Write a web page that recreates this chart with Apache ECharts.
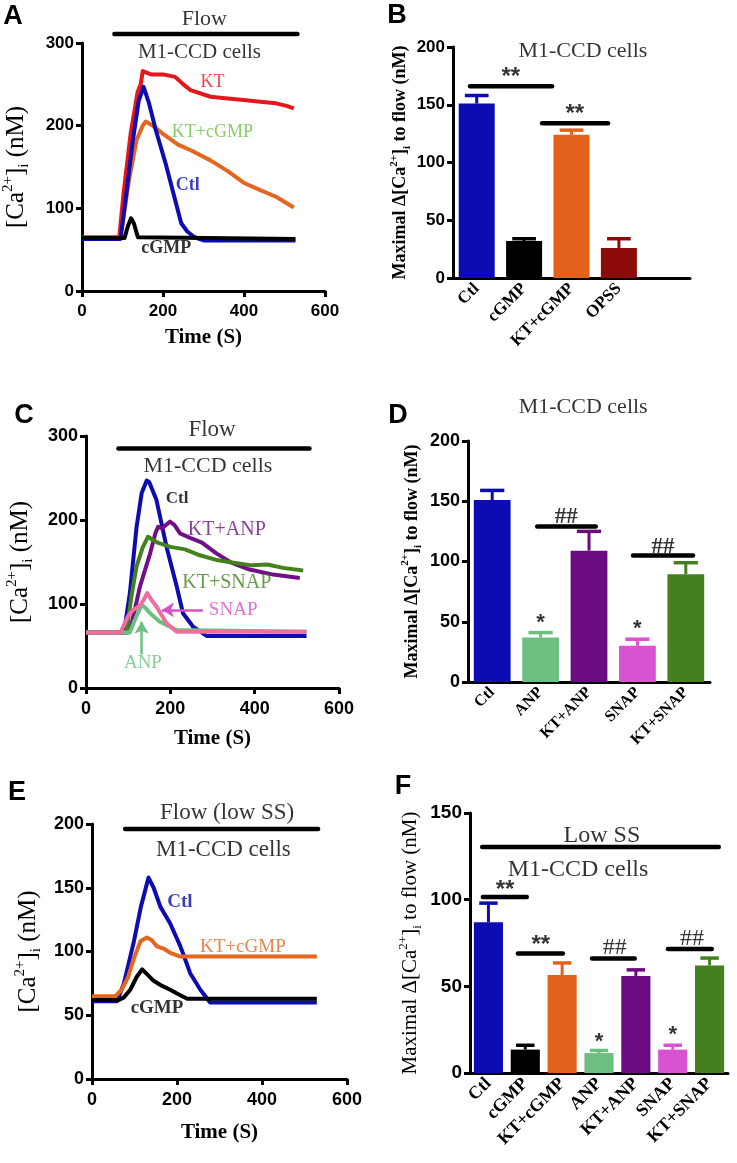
<!DOCTYPE html>
<html><head><meta charset="utf-8">
<script src="https://cdn.jsdelivr.net/npm/echarts@6/dist/echarts.min.js"></script>
<style>html,body{margin:0;padding:0;background:#fff}#c{width:737px;height:1163px}</style>
</head><body><div id="c"></div>
<script>
// ---------- Panel A: time courses [t (s), Ca (nM)] ----------
const A_KT     = [[0,65],[92,65],[103,120],[120,190],[137,240],[145,250],[150,266],[153,267],[170,262],[200,262],[230,259],[250,250],[268,243],[317,235],[360,233],[399,231],[440,229],[479,227],[505,224],[523,221]];
const A_Ctl    = [[0,63],[95,63],[110,120],[125,180],[140,230],[152,247],[165,228],[182,195],[206,155],[230,110],[245,82],[260,72],[278,65],[302,61],[527,61]];
const A_KTcGMP = [[0,64],[93,64],[100,80],[116,134],[135,183],[150,200],[157,205],[175,200],[200,190],[237,177],[270,170],[317,158],[360,145],[399,131],[440,122],[479,114],[523,101]];
const A_cGMP   = [[0,64],[105,64],[113,78],[121,88],[128,82],[138,65],[527,63]];
const A_flowBar = [[80,311],[532,311]];

// ---------- Panel B: bars ----------
const B_cats = ['Ctl','cGMP','KT+cGMP','OPSS',''];
const B_vals = [151,32,124,26];
const B_err  = [158,34,128,34];
const B_sig1 = [[-0.14,166],[1.59,166]];
const B_sig2 = [[1.38,134],[2.77,134]];

// ---------- Panel C ----------
const C_Ctl    = [[0,66],[90,66],[104,113],[120,192],[132,232],[144,247],[150,245],[167,224],[191,168],[215,121],[230,89],[254,73],[286,62],[523,62]];
const C_KTANP  = [[0,66],[100,66],[110,80],[128,121],[152,160],[165,185],[171,192],[180,190],[199,198],[210,194],[223,184],[250,178],[275,173],[310,160],[346,149],[388,141],[444,135],[507,131]];
const C_KTSNAP = [[0,66],[96,66],[108,110],[120,145],[135,168],[147,180],[170,173],[200,168],[235,165],[270,158],[313,152],[350,149],[393,146],[430,147],[467,143],[515,140]];
const C_ANP    = [[0,66],[104,66],[115,80],[132,99],[140,96],[152,89],[175,79],[215,69],[523,67]];
const C_SNAP   = [[0,66],[82,66],[100,86],[112,93],[128,98],[138,106],[145,113],[155,105],[167,97],[191,77],[215,67],[523,67]];
const C_flowBar = [[77,285],[530,285]];
const C_snapArrow = [[277,93],[180,93]];
const C_anpArrow  = [[132,40],[132,79]];

// ---------- Panel D ----------
const D_cats = ['Ctl','ANP','KT+ANP','SNAP','KT+SNAP'];
const D_vals = [151,37,109,30,89.5];
const D_err  = [159,41,125,35.5,99];
const D_sig1 = [[0.93,129],[2.14,129]];
const D_sig2 = [[2.91,105],[4.15,105]];

// ---------- Panel E ----------
const E_Ctl    = [[0,61],[59,61],[75,75],[98,107],[115,135],[133,158],[145,150],[161,135],[184,122],[208,104],[231,83],[255,70],[278,60],[529,60]];
const E_KTcGMP = [[0,65],[55,65],[70,70],[85,80],[98,94],[114,108],[129,111],[140,109],[153,104],[170,102],[184,99],[208,96],[529,96]];
const E_cGMP   = [[0,62],[63,62],[75,64],[90,70],[105,80],[118,86],[130,82],[145,77],[165,73],[184,70],[200,67],[224,63],[529,63]];
const E_flowBar = [[78,196],[532,196]];

// ---------- Panel F ----------
const F_cats = ['Ctl','cGMP','KT+cGMP','ANP','KT+ANP','SNAP','KT+SNAP'];
const F_vals = [87,13.5,56.5,11.5,56,13.5,62];
const F_err  = [98,16,63.5,13,59.5,16,66.3];
const F_lowSS = [[-0.17,130.4],[6.25,130.4]];
const F_sig1 = [[-0.15,101.5],[1.04,101.5]];
const F_sig2 = [[0.8,69],[2.02,69]];
const F_sig3 = [[2.81,66],[3.97,66]];
const F_sig4 = [[4.87,71.5],[6.06,71.5]];

// ---------- styles ----------
const SERIF = '"Liberation Serif","Times New Roman",serif';
const SANS = '"Liberation Sans",Arial,sans-serif';
const BLUE='#0c0cb2', RED='#e5161c', ORANGE='#e4661f', LGREEN_LBL='#6cbd45', PURPLE='#700f86',
      DGREEN='#43821f', PINK='#ee6f9e', MAGENTA='#d650c8', LGREEN='#6cc080', DRED='#8c0c0c';
const B_cols = [BLUE,'#000000','#e2611b',DRED];
const D_cols = [BLUE,'#6cbf7f','#6c0a82','#d952cf','#45801f'];
const F_cols = [BLUE,'#000000','#e2611b','#6cbf7f','#6c0a82','#d952cf','#45801f'];

const chart = echarts.init(document.getElementById('c'), null, {renderer:'canvas'});

const axLine = {show:true, onZero:false, lineStyle:{color:'#000', width:3}};
const axTick = {show:true, length:6, lineStyle:{color:'#000', width:3}};
function lbl(fs){ return {color:'#000', fontFamily:SANS, fontWeight:'bold', fontSize:fs, margin:8}; }

function ca(fs){ // [Ca2+]i (nM)
  return {fontFamily:SERIF, fontSize:fs, color:'#000', lineHeight:fs+6,
    rich:{n:{fontFamily:SERIF,fontSize:fs,lineHeight:fs+6,color:'#000'},
          sup:{fontFamily:SERIF,fontSize:Math.round(fs*0.6),lineHeight:Math.round(fs*0.6),verticalAlign:'top',color:'#000'},
          sub:{fontFamily:SERIF,fontSize:Math.round(fs*0.6),lineHeight:Math.round(fs*0.6),verticalAlign:'bottom',color:'#000'}}};
}
function maxi(fs, bold){
  const w = bold ? 'bold' : 'normal';
  return {fontFamily:SERIF, fontSize:fs, fontWeight:w, color:'#000', lineHeight:fs+6,
    rich:{n:{fontFamily:SERIF,fontSize:fs,fontWeight:w,lineHeight:fs+6,color:'#000'},
          sup:{fontFamily:SERIF,fontSize:Math.round(fs*0.6),fontWeight:w,lineHeight:Math.round(fs*0.6),verticalAlign:'top',color:'#000'},
          sub:{fontFamily:SERIF,fontSize:Math.round(fs*0.6),fontWeight:w,lineHeight:Math.round(fs*0.6),verticalAlign:'bottom',color:'#000'}}};
}
const CA_NAME = '{n|[Ca}{sup|2+}{n|]}{sub|i}{n| (nM)}';
const MAX_NAME = '{n|Maximal Δ[Ca}{sup|2+}{n|]}{sub|i}{n| to flow (nM)}';

function timeX(gi, gap, fs){
  return {type:'value', gridIndex:gi, min:0, max:600, interval:200, axisLine:axLine, axisTick:axTick,
    axisLabel:Object.assign(lbl(fs),{margin:12}), splitLine:{show:false},
    name:'Time (S)', nameLocation:'middle', nameGap:gap,
    nameTextStyle:{fontFamily:SERIF, fontWeight:'bold', fontSize:21, color:'#000'}};
}
function caY(gi, max, interval, gap, fs, nfs){
  return {type:'value', gridIndex:gi, min:0, max:max, interval:interval, axisLine:axLine, axisTick:axTick,
    axisLabel:lbl(fs), splitLine:{show:false},
    name:CA_NAME, nameLocation:'middle', nameRotate:90, nameGap:gap, nameTextStyle:ca(nfs)};
}
function catX(gi, cats, fs){
  return {type:'category', gridIndex:gi, data:cats, axisLine:axLine, axisTick:{show:false},
    axisLabel:{interval:0, rotate:45, color:'#000', fontFamily:SERIF, fontWeight:'bold', fontSize:fs, margin:8},
    splitLine:{show:false}};
}
function hidX(gi, n){ return {type:'value', gridIndex:gi, min:-0.5, max:n-0.5, show:false, splitLine:{show:false}}; }
function barY(gi, max, interval, gap, fs, nfs, bold){
  return {type:'value', gridIndex:gi, min:0, max:max, interval:interval, axisLine:axLine, axisTick:axTick,
    axisLabel:lbl(fs), splitLine:{show:false},
    name:MAX_NAME, nameLocation:'middle', nameRotate:90, nameGap:gap, nameTextStyle:maxi(nfs, bold)};
}

function curve(i, data, color){
  return {type:'line', xAxisIndex:i, yAxisIndex:i, data:data, symbol:'none', showSymbol:false,
    lineStyle:{color:color, width:4, join:'round'}, itemStyle:{color:color}, z:3, silent:true};
}
function seg(xi, yi, data, w){
  return {type:'line', xAxisIndex:xi, yAxisIndex:yi, data:data, symbol:'none', clip:false,
    lineStyle:{color:'#000', width:w||4.5, cap:'round'}, z:5, silent:true};
}
function txt(xi, yi, x, y, text, o){
  return {type:'scatter', xAxisIndex:xi, yAxisIndex:yi, clip:false, symbolSize:1, silent:true,
    itemStyle:{color:'rgba(0,0,0,0)'}, data:[[x,y]], z:6,
    label:Object.assign({show:true, position:'inside', formatter:text, color:'#000', fontFamily:SERIF, fontSize:20}, o||{})};
}
function bars(i, vals, cols, bw){
  return {type:'bar', xAxisIndex:i, yAxisIndex:i, barWidth:bw, z:2, silent:true,
    data: vals.map((v,k)=>({value:v, itemStyle:{color:cols[k]}}))};
}
function errs(i, vals, tops, cols, capFrac){
  return {type:'custom', xAxisIndex:i, yAxisIndex:i, z:1, silent:true,
    data: vals.map((v,k)=>[k, v, tops[k]]),
    renderItem:function(params, api){
      const k = api.value(0);
      const p0 = api.coord([k, api.value(1)]);
      const p1 = api.coord([k, api.value(2)]);
      const w = api.size([1,0])[0]*capFrac;
      const c = cols[params.dataIndex];
      return {type:'group', children:[
        {type:'line', shape:{x1:p0[0],y1:p0[1],x2:p1[0],y2:p1[1]}, style:{stroke:c, lineWidth:3}},
        {type:'line', shape:{x1:p1[0]-w/2,y1:p1[1],x2:p1[0]+w/2,y2:p1[1]}, style:{stroke:c, lineWidth:3.5}}
      ]};
    }};
}
function arrow(i, pts, color){
  return {type:'line', xAxisIndex:i, yAxisIndex:i, data:[], silent:true,
    markLine:{silent:true, symbol:['none','arrow'], symbolSize:[11,12], label:{show:false},
      lineStyle:{color:color, width:2.5, type:'solid'}, animation:false,
      data:[[{coord:pts[0]},{coord:pts[1]}]]}};
}
function letter(t, x, y){
  return {type:'text', x:x, y:y, style:{text:t, fill:'#000', font:'bold 27px "Liberation Sans", Arial',
    textAlign:'center', textVerticalAlign:'middle', align:'center', verticalAlign:'middle'}};
}

const option = {
  backgroundColor:'#fff',
  animation:false,
  grid:[
    {left:77, top:43, width:248, height:248},
    {left:453, top:47, width:237, height:231},
    {left:86, top:436, width:253, height:252},
    {left:468, top:441, width:242, height:241},
    {left:92, top:824, width:255, height:255},
    {left:470, top:813, width:258, height:260}
  ],
  xAxis:[
    timeX(0, 36, 17),
    catX(1, B_cats, 17),
    timeX(2, 40, 18),
    catX(3, D_cats, 16),
    timeX(4, 43, 18),
    catX(5, F_cats, 18),
    hidX(1, 5), hidX(3, 5), hidX(5, 7)
  ],
  yAxis:[
    caY(0, 300, 100, 50, 17, 25),
    barY(1, 200, 50, 40, 17, 18, true),
    caY(2, 300, 100, 50, 18, 25),
    barY(3, 200, 50, 44, 18, 18, true),
    caY(4, 200, 50, 48, 18, 25),
    barY(5, 150, 50, 46, 19, 21, false)
  ],
  graphic:[letter('A',13,17), letter('B',397,16), letter('C',24,416), letter('D',398,416), letter('E',17,793), letter('F',403,787)],
  series:[
    // A
    curve(0, A_KT, RED), curve(0, A_KTcGMP, ORANGE), curve(0, A_Ctl, BLUE), curve(0, A_cGMP, '#000'),
    seg(0,0, A_flowBar),
    txt(0,0, 302,329,'Flow',{fontSize:22}),
    txt(0,0, 290,289,'M1-CCD cells',{fontSize:21}),
    txt(0,0, 322,253,'KT',{fontSize:18, color:RED}),
    txt(0,0, 322,192,'KT+cGMP',{fontSize:18, color:LGREEN_LBL}),
    txt(0,0, 261,128,'Ctl',{fontSize:18, fontWeight:'bold', color:BLUE}),
    txt(0,0, 208,51,'cGMP',{fontSize:18, fontWeight:'bold'}),
    // B
    errs(1, B_vals, B_err, B_cols, 0.5), bars(1, B_vals, B_cols, '76%'),
    seg(6,1, B_sig1), seg(6,1, B_sig2),
    txt(6,1, 0.72,174,'**',{fontFamily:SANS, fontWeight:'bold', fontSize:24}),
    txt(6,1, 2.07,142,'**',{fontFamily:SANS, fontWeight:'bold', fontSize:24}),
    txt(6,1, 2.24,196,'M1-CCD cells',{fontSize:22}),
    // C
    curve(2, C_Ctl, BLUE), curve(2, C_KTANP, PURPLE), curve(2, C_KTSNAP, DGREEN), curve(2, C_ANP, LGREEN), curve(2, C_SNAP, PINK),
    arrow(2, C_snapArrow, MAGENTA), arrow(2, C_anpArrow, LGREEN),
    seg(2,2, C_flowBar),
    txt(2,2, 299,307,'Flow',{fontSize:23}),
    txt(2,2, 289,264,'M1-CCD cells',{fontSize:22}),
    txt(2,2, 216,226,'Ctl',{fontSize:17, fontWeight:'bold'}),
    txt(2,2, 334,188,'KT+ANP',{fontSize:20, color:PURPLE}),
    txt(2,2, 334,125,'KT+SNAP',{fontSize:20, color:DGREEN}),
    txt(2,2, 349,93,'SNAP',{fontSize:19, color:MAGENTA}),
    txt(2,2, 135,30,'ANP',{fontSize:19, color:LGREEN}),
    // D
    errs(3, D_vals, D_err, D_cols, 0.5), bars(3, D_vals, D_cols, '76%'),
    seg(7,3, D_sig1), seg(7,3, D_sig2),
    txt(7,3, 1.53,137,'##',{fontWeight:'bold', fontSize:23}),
    txt(7,3, 3.53,112,'##',{fontWeight:'bold', fontSize:23}),
    txt(7,3, 1,49,'*',{fontFamily:SANS, fontWeight:'bold', fontSize:22}),
    txt(7,3, 3,44,'*',{fontFamily:SANS, fontWeight:'bold', fontSize:22}),
    txt(7,3, 1.88,228,'M1-CCD cells',{fontSize:22}),
    // E
    curve(4, E_Ctl, BLUE), curve(4, E_KTcGMP, ORANGE), curve(4, E_cGMP, '#000'),
    seg(4,4, E_flowBar),
    txt(4,4, 318,209,'Flow (low SS)',{fontSize:23}),
    txt(4,4, 309,180,'M1-CCD cells',{fontSize:23}),
    txt(4,4, 207,139,'Ctl',{fontSize:19, fontWeight:'bold', color:BLUE}),
    txt(4,4, 355,103.5,'KT+cGMP',{fontSize:19, color:ORANGE}),
    txt(4,4, 153,56,'cGMP',{fontSize:19, fontWeight:'bold'}),
    // F
    errs(5, F_vals, F_err, F_cols, 0.5), bars(5, F_vals, F_cols, '79%'),
    seg(8,5, F_lowSS), seg(8,5, F_sig1), seg(8,5, F_sig2), seg(8,5, F_sig3), seg(8,5, F_sig4),
    txt(8,5, 3.08,137,'Low SS',{fontSize:24}),
    txt(8,5, 2.43,117,'M1-CCD cells',{fontSize:24}),
    txt(8,5, 0.45,105.5,'**',{fontFamily:SANS, fontWeight:'bold', fontSize:24}),
    txt(8,5, 1.42,73.5,'**',{fontFamily:SANS, fontWeight:'bold', fontSize:24}),
    txt(8,5, 3.43,72,'##',{fontSize:24}),
    txt(8,5, 5.52,77.5,'##',{fontSize:24}),
    txt(8,5, 3,18,'*',{fontFamily:SANS, fontWeight:'bold', fontSize:22}),
    txt(8,5, 5,22,'*',{fontFamily:SANS, fontWeight:'bold', fontSize:22})
  ]
};
chart.setOption(option);
</script>
</body></html>
